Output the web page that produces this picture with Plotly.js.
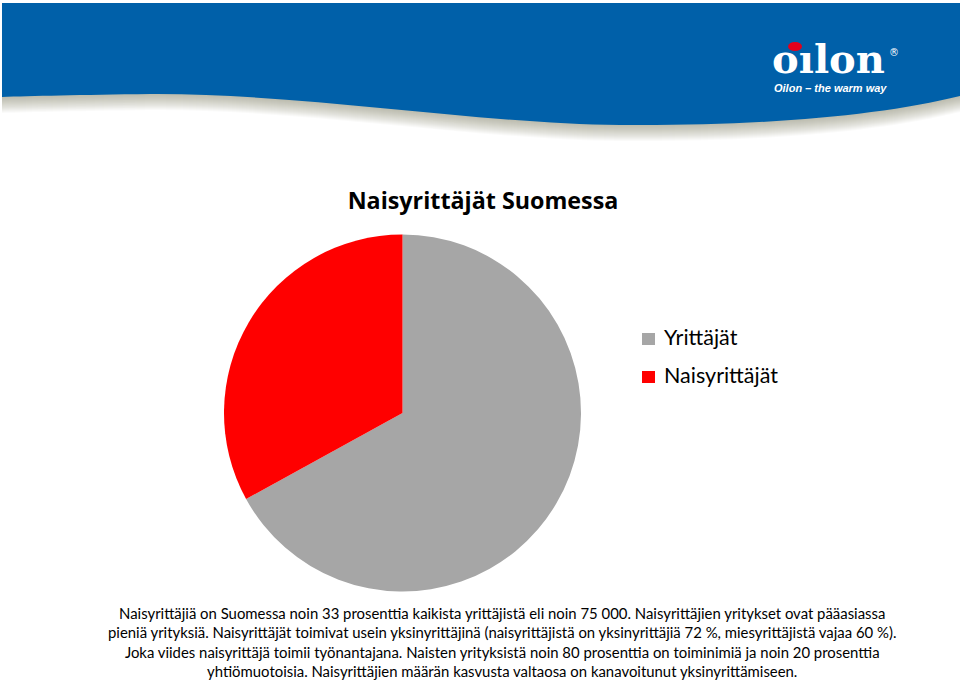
<!DOCTYPE html>
<html>
<head>
<meta charset="utf-8">
<script src="https://cdn.plot.ly/plotly-3.0.1.min.js"></script>
<style>
  html, body { margin: 0; padding: 0; background: #ffffff; }
  #chart { width: 960px; height: 682px; }
</style>
</head>
<body>
<div id="chart"></div>
<script>
// ---- Data ----
const labels = ['Yrittäjät', 'Naisyrittäjät'];
const values = [67, 33];
const sliceColors = ['#A6A6A6', '#FF0000'];
const chartTitle = 'Naisyrittäjät Suomessa';
const bodyLines = [
  'Naisyrittäjiä on Suomessa noin 33 prosenttia kaikista yrittäjistä eli noin 75 000. Naisyrittäjien yritykset ovat pääasiassa',
  'pieniä yrityksiä. Naisyrittäjät toimivat usein yksinyrittäjinä (naisyrittäjistä on yksinyrittäjiä 72 %, miesyrittäjistä vajaa 60 %).',
  'Joka viides naisyrittäjä toimii työnantajana. Naisten yrityksistä noin 80 prosenttia on toiminimiä ja noin 20 prosenttia',
  'yhtiömuotoisia. Naisyrittäjien määrän kasvusta valtaosa on kanavoitunut yksinyrittämiseen.'
];
const logoWord = 'oılon';
const logoTagline = 'Oilon – the warm way';

// ---- Layout helpers (pixel -> paper) ----
const W = 960, H = 682;
const px = x => x / W;
const py = y => 1 - y / H;
function pathFrom(cmds) {
  return cmds.map(c => {
    const l = c[0];
    const pts = [];
    for (let i = 1; i < c.length; i += 2) pts.push(px(c[i]).toFixed(5) + ',' + py(c[i + 1]).toFixed(5));
    return l + ' ' + pts.join(' ');
  }).join(' ') + ' Z';
}
function bandPath(dy) {
  return pathFrom([
    ['M', 2, 3],
    ['L', 960, 3],
    ['L', 960, 96 + dy],
    ['C', 880, 116 + dy, 760, 126 + dy, 620, 125 + dy],
    ['C', 480, 124 + dy, 300, 93 + dy, 150, 94 + dy],
    ['C', 80, 95 + dy, 30, 96 + dy, 2, 97 + dy],
  ]);
}

const shapes = [];
// soft shadow under the band
for (let k = 16; k >= 1; k -= 1) {
  shapes.push({
    type: 'path', xref: 'paper', yref: 'paper', layer: 'below',
    path: bandPath(k),
    fillcolor: 'rgba(120,115,110,0.04)', line: { width: 0 }
  });
}
shapes.push({
  type: 'path', xref: 'paper', yref: 'paper', layer: 'below',
  path: bandPath(0),
  fillcolor: '#0060A9', line: { width: 0 }
});
// red mark of the logo
shapes.push({
  type: 'circle', xref: 'paper', yref: 'paper', layer: 'above',
  x0: px(788), x1: px(802), y0: py(51), y1: py(42),
  fillcolor: '#E3001B', line: { width: 0 }
});

// pie position
const cx = 402.5, cy = 413, r = 178.5;

// manual legend
const annotations = [];
labels.forEach((lab, i) => {
  const yc = 339 + 38 * i;
  shapes.push({
    type: 'rect', xref: 'paper', yref: 'paper',
    x0: px(642), x1: px(655), y0: py(yc + 6), y1: py(yc - 6),
    fillcolor: sliceColors[i], line: { width: 0 }
  });
  annotations.push({
    xref: 'paper', yref: 'paper', x: px(662), y: py(yc - 2), xanchor: 'left', yanchor: 'middle',
    text: lab, showarrow: false,
    font: { family: 'Lato, "Open Sans", sans-serif', size: 21.5, color: '#000000' }
  });
});

// body paragraph
annotations.push({
  xref: 'paper', yref: 'paper', x: px(502), y: py(602), xanchor: 'center', yanchor: 'top',
  text: bodyLines.join('<br>'), align: 'center', showarrow: false,
  font: { family: 'Lato, "Open Sans", sans-serif', size: 14.9, color: '#000000' }
});

// logo texts
annotations.push({
  xref: 'paper', yref: 'paper', x: px(828), y: py(58), xanchor: 'center', yanchor: 'middle',
  text: logoWord, showarrow: false,
  font: { family: '"DejaVu Serif", serif', size: 40, weight: 'bold', color: '#ffffff' }
});
annotations.push({
  xref: 'paper', yref: 'paper', x: px(894), y: py(52), xanchor: 'center', yanchor: 'middle',
  text: '®', showarrow: false,
  font: { family: '"DejaVu Sans", sans-serif', size: 10, color: '#ffffff' }
});
annotations.push({
  xref: 'paper', yref: 'paper', x: px(830), y: py(88), xanchor: 'center', yanchor: 'middle',
  text: logoTagline, showarrow: false,
  font: { family: '"Liberation Sans", Arial, sans-serif', size: 11, style: 'italic', weight: 'bold', color: '#ffffff' }
});

const trace = {
  type: 'pie',
  labels: labels,
  values: values,
  marker: { colors: sliceColors, line: { width: 0 } },
  sort: false,
  direction: 'clockwise',
  rotation: 0,
  textinfo: 'none',
  hoverinfo: 'label+value+percent',
  showlegend: false,
  domain: { x: [px(cx - r), px(cx + r)], y: [py(cy + r), py(cy - r)] }
};

const layout = {
  width: W, height: H,
  margin: { l: 0, r: 0, t: 0, b: 0 },
  paper_bgcolor: '#ffffff',
  plot_bgcolor: '#ffffff',
  title: {
    text: chartTitle,
    x: px(483), xanchor: 'center', xref: 'paper',
    y: py(201), yanchor: 'middle', yref: 'paper',
    font: { family: '"Open Sans", Lato, sans-serif', size: 23.3, weight: 'bold', color: '#000000' }
  },
  shapes: shapes,
  annotations: annotations,
  showlegend: false
};

Plotly.newPlot('chart', [trace], layout, { displayModeBar: false, responsive: false });
</script>
</body>
</html>
